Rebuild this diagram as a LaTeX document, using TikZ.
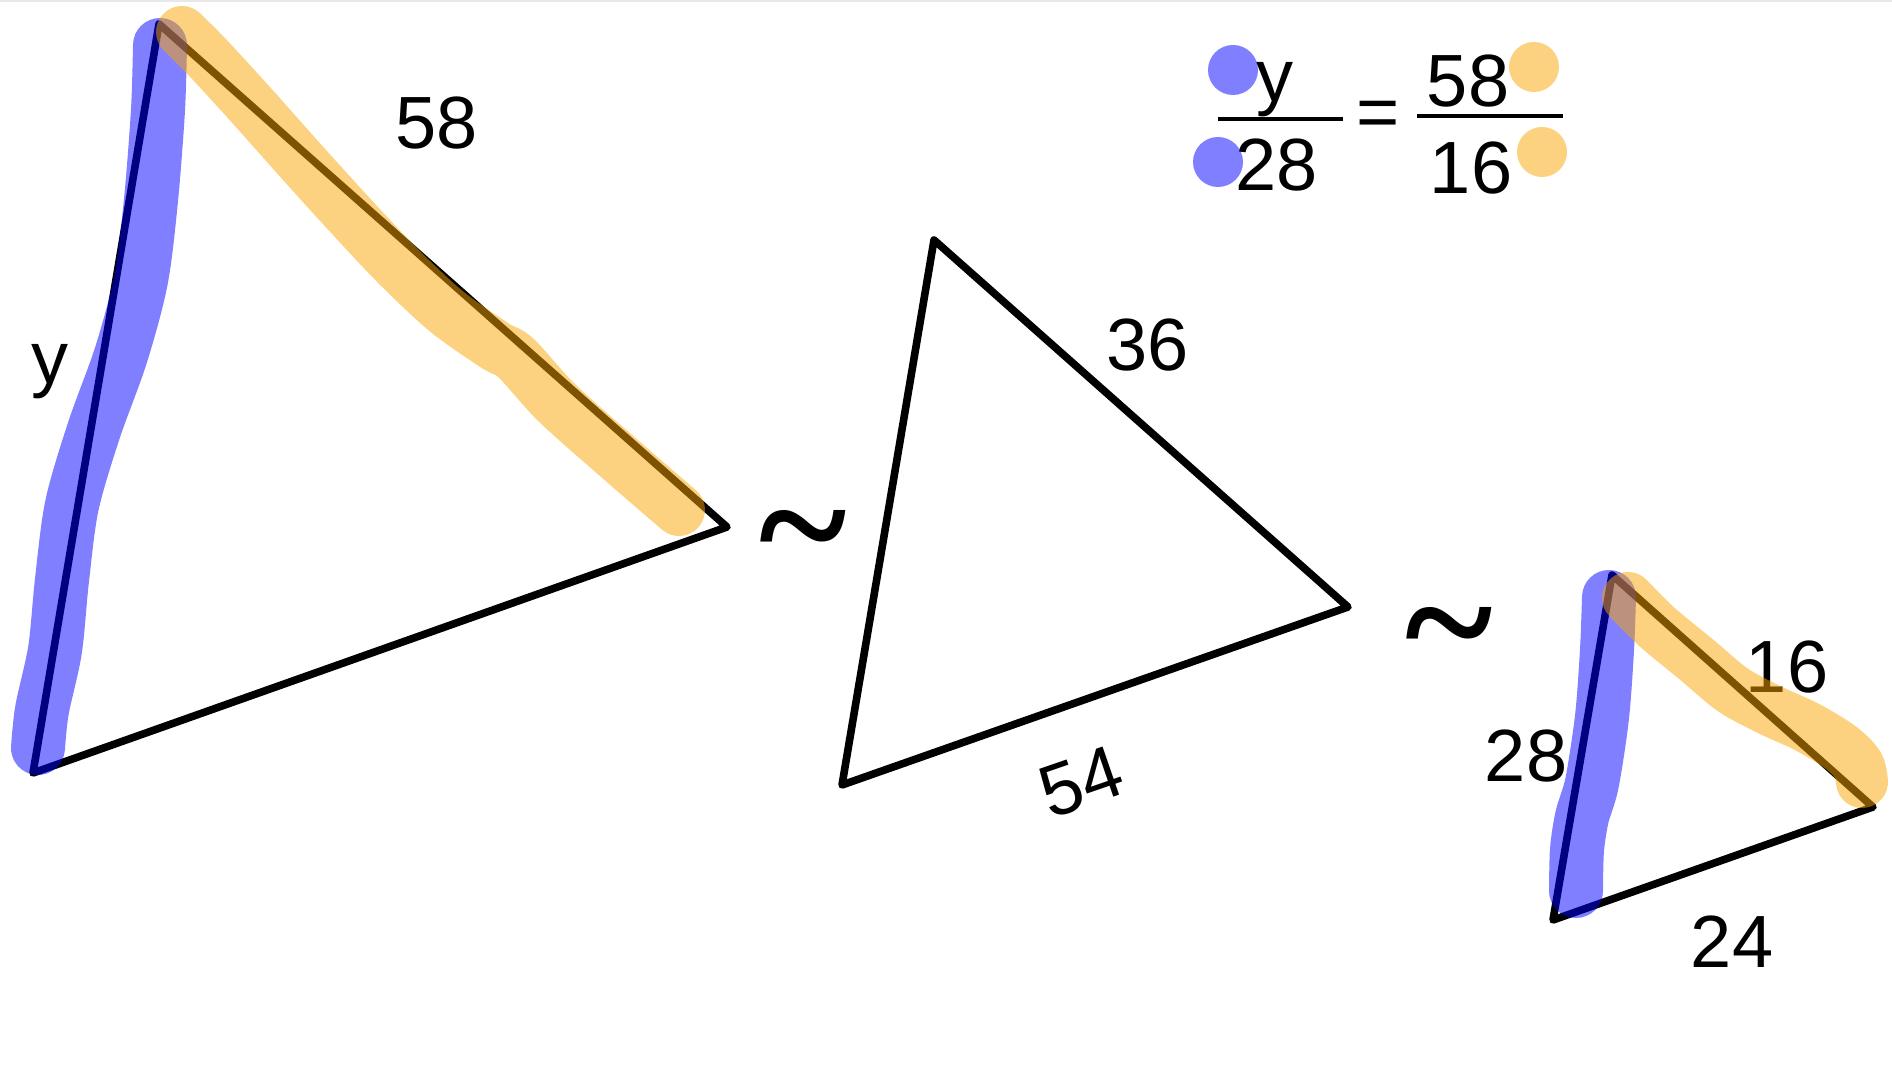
\documentclass[tikz,border=0pt]{standalone}
\usepackage{fontspec}
\setmainfont{Liberation Sans}
\newfontfamily\tildefont{Liberation Serif}
\definecolor{hlblue}{RGB}{0,0,255}
\definecolor{hlorange}{RGB}{250,165,0}
\begin{document}
\begin{tikzpicture}[x=0.5pt,y=-0.5pt,
  tri/.style={line width=3.8pt,line join=round,line cap=round},
  hlb/.style={draw=hlblue,draw opacity=0.5,line width=27pt,line cap=round,line join=round},
  hlo/.style={draw=hlorange,draw opacity=0.5,line width=26pt,line cap=round,line join=round},
  lbl/.style={font=\fontsize{37}{44}\selectfont,inner sep=0pt},
  simnode/.style={font=\tildefont\bfseries\fontsize{84}{94}\selectfont,inner sep=0pt,anchor=base},
  dotb/.style={fill=hlblue,fill opacity=0.5},
  doto/.style={fill=hlorange,fill opacity=0.5},
  fracline/.style={line width=2pt},
]
\useasboundingbox (0,0) rectangle (1892,1074);
\fill[white] (0,0) rectangle (1892,1074);
\draw[gray!18,line width=1pt] (0,1) -- (1892,1);

% vertices
\coordinate (A) at (159,24);
\coordinate (B) at (33,773);
\coordinate (C) at (727,527);
\coordinate (D) at (934,240);
\coordinate (E) at (842,785);
\coordinate (F) at (1348,607);
\coordinate (G) at (1612,575);
\coordinate (H) at (1553,920);
\coordinate (I) at (1873,807);

% triangles
\draw[tri] (A) -- (B) -- (C) -- cycle;
\draw[tri] (D) -- (E) -- (F) -- cycle;
\draw[tri] (G) -- (H) -- (I) -- cycle;

% labels
\node[lbl] (l58) at (437,123) {58};
\node[lbl] (ly) at (50,372) {y};
\node[lbl] (l36) at (1148,345) {36};
\node[lbl,rotate=19] (l54) at (1081,782) {54};
\node[lbl] (l16) at (1787,667) {16};
\node[lbl] (l28) at (1526,756) {28};
\node[lbl] (l24) at (1732,942) {24};

% similarity signs
\node[simnode] (sim1) at (803,582) {\textasciitilde};
\node[simnode] (sim2) at (1449,679) {\textasciitilde};

% highlights big triangle
\draw[hlb] plot[smooth] coordinates {(160,45) (158,110) (151,200) (141,280) (121,355) (94,430) (72,505) (62,580) (55,650) (42,710) (38,748)};
\draw[hlo] plot[smooth] coordinates {(182,32) (208,58) (252,106) (300,160) (349,214) (397,265) (446,311) (494,345) (516,358) (557,403) (620,459) (679,510)};

% highlights small triangle
\draw[hlb] plot[smooth] coordinates {(1609,597) (1607,650) (1602,717) (1592,783) (1582,817) (1577,850) (1576,891)};
\draw[hlo] plot[smooth] coordinates {(1628,598) (1657,627) (1697,660) (1733,690) (1770,710) (1807,727) (1840,747) (1858,765) (1862,782)};

% equation
\node[lbl] (ey) at (1275,90) {y};
\node[lbl] (e28) at (1277,165) {28};
\node[lbl,anchor=base] (eeq) at (1378,138) {=};
\node[lbl] (e58) at (1468,81) {58};
\node[lbl] (e16) at (1471,168) {16};
\coordinate (f1a) at (1218,119);
\coordinate (f1b) at (1343,119);
\coordinate (f2a) at (1417,116);
\coordinate (f2b) at (1563,116);
\draw[fracline] (f1a) -- (f1b);
\draw[fracline] (f2a) -- (f2b);
\fill[dotb] (1233,70) circle (25);
\fill[dotb] (1218,162) circle (25);
\fill[doto] (1534,67) circle (25);
\fill[doto] (1542,152) circle (25);
\end{tikzpicture}
\end{document}
